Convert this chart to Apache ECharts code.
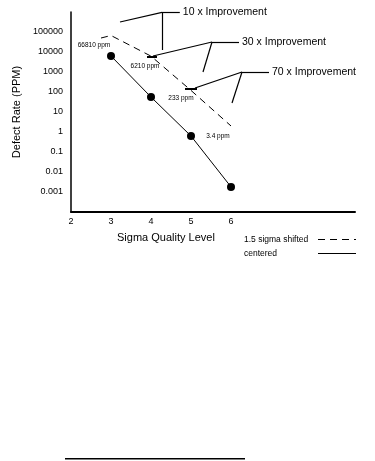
<!DOCTYPE html>
<html>
<head>
<meta charset="utf-8">
<script src="https://cdn.jsdelivr.net/npm/echarts@6/dist/echarts.min.js"></script>
<style>
  html, body { margin: 0; padding: 0; background: #fff; }
  #chart { width: 375px; height: 461px; }
</style>
</head>
<body>
<div id="chart"></div>
<script>
// sigma levels and defect rates (ppm)
const centeredSigma = [3, 4, 5, 6];
const centeredPpm = [6300, 56, 0.63, 0.0018];
const shiftedSigma = [2.75, 3, 4, 5, 6];
const shiftedPpm = [50000, 66810, 6210, 120, 2];
const shiftedLabels = ["", "66810 ppm", "6210 ppm", "233 ppm", "3.4 ppm"];
const shiftedLabelOffsets = [[0, 0], [-17, 10], [-6, 10], [-10, 8], [-13, 10]];

// leader lines of the improvement notes, in data units: [x1, y1, x2, y2, text]
const leaders = [
  [4.275, 9.5e5, 4.72, 9.5e5, "10 x Improvement"],
  [4.275, 9.5e5, 3.225, 316000, ""],
  [4.275, 9.5e5, 4.275, 12600, ""],
  [5.525, 31600, 6.2, 31600, "30 x Improvement"],
  [5.525, 31600, 4.05, 6300, ""],
  [3.9, 5600, 4.15, 5600, ""],
  [5.525, 31600, 5.3, 1000, ""],
  [6.275, 1000, 6.95, 1000, "70 x Improvement"],
  [6.275, 1000, 5.1, 158, ""],
  [4.85, 141, 5.15, 141, ""],
  [6.275, 1000, 6.025, 28, ""],
];

const font = '"Liberation Sans", Arial, sans-serif';
const chart = echarts.init(document.getElementById("chart"), null, { renderer: "canvas" });

chart.setOption({
  animation: false,
  backgroundColor: "#fff",
  textStyle: { fontFamily: font, color: "#000" },
  grid: { left: 71, right: 20, top: 12, bottom: 249 },
  xAxis: {
    type: "value",
    min: 2,
    max: 9.1,
    interval: 1,
    axisLine: { lineStyle: { color: "#000", width: 2 } },
    axisTick: { show: false },
    splitLine: { show: false },
    axisLabel: {
      color: "#000",
      fontSize: 9,
      margin: 5,
      showMaxLabel: false,
      formatter: (v) => (v <= 6 ? String(v) : ""),
    },
  },
  yAxis: {
    type: "log",
    min: 0.0001,
    max: 1000000,
    logBase: 10,
    name: "Defect Rate (PPM)",
    nameLocation: "middle",
    nameRotate: 90,
    nameGap: 46,
    nameTextStyle: { fontSize: 11, color: "#000" },
    axisLine: { show: true, lineStyle: { color: "#000", width: 1.5 } },
    axisTick: { show: false },
    splitLine: { show: false },
    axisLabel: {
      color: "#000",
      fontSize: 9,
      margin: 8,
      formatter: (v) => (v < 0.0009 || v > 200000 ? "" : String(v)),
    },
  },
  series: [
    {
      name: "1.5 sigma shifted",
      type: "line",
      data: shiftedSigma.map((s, i) => ({
        value: [s, shiftedPpm[i]],
        label: {
          show: shiftedLabels[i] !== "",
          formatter: shiftedLabels[i],
          offset: shiftedLabelOffsets[i],
        },
      })),
      symbol: "circle",
      symbolSize: 0.1,
      showSymbol: true,
      lineStyle: { color: "#000", width: 1, type: [7, 5] },
      itemStyle: { color: "#000" },
      label: { position: "inside", fontSize: 6.5, color: "#000" },
      markLine: {
        silent: true,
        symbol: "none",
        animation: false,
        data: leaders.map(([x1, y1, x2, y2, text]) => [
          {
            coord: [x1, y1],
            lineStyle: { color: "#000", type: "solid", width: y1 === y2 && !text ? 2 : 1.2 },
            label: { show: text !== "", position: "end", formatter: text, distance: 3 },
          },
          { coord: [x2, y2] },
        ]),
        label: { color: "#000", fontSize: 10.5, fontFamily: font },
      },
    },
    {
      name: "centered",
      type: "line",
      data: centeredSigma.map((s, i) => [s, centeredPpm[i]]),
      symbol: "circle",
      symbolSize: 8,
      lineStyle: { color: "#000", width: 1 },
      itemStyle: { color: "#000" },
    },
  ],
  graphic: [
    {
      type: "text",
      left: 117,
      top: 232,
      style: { text: "Sigma Quality Level", fill: "#000", font: "11px " + font },
    },
    {
      type: "text",
      left: 244,
      top: 235,
      style: { text: "1.5 sigma shifted", fill: "#000", font: "8.5px " + font },
    },
    {
      type: "line",
      shape: { x1: 318, y1: 239.5, x2: 356, y2: 239.5 },
      style: { stroke: "#000", lineWidth: 1, lineDash: [7, 5] },
    },
    {
      type: "text",
      left: 244,
      top: 249,
      style: { text: "centered", fill: "#000", font: "8.5px " + font },
    },
    {
      type: "line",
      shape: { x1: 318, y1: 253.5, x2: 356, y2: 253.5 },
      style: { stroke: "#000", lineWidth: 1 },
    },
    {
      type: "rect",
      shape: { x: 65, y: 458, width: 180, height: 1.5 },
      style: { fill: "#000" },
    },
  ],
});
</script>
</body>
</html>
